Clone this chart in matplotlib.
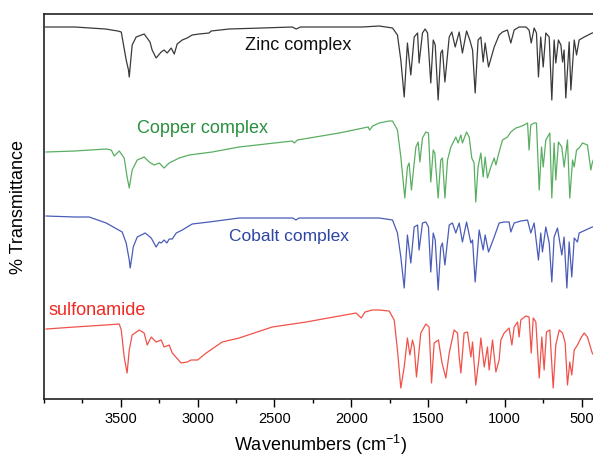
import matplotlib as mpl
mpl.use('Agg')
import numpy as np
import matplotlib.pyplot as plt
from matplotlib.ticker import MultipleLocator

plt.rcParams['font.family'] = ['Liberation Sans', 'DejaVu Sans']
plt.rcParams['mathtext.default'] = 'regular'

# Spectra: wavenumber (cm-1) and stacked %T (arbitrary offset units)
zinc_wn = [3990, 3800, 3700, 3600, 3520, 3497, 3465, 3450, 3445, 3438, 3426, 3400, 3348,
           3310, 3296, 3270, 3237, 3218, 3198, 3172, 3152, 3133, 3100, 3068, 3035, 2990,
           2925, 2912, 2795, 2580, 2384, 2358, 2330, 1928, 1818, 1731, 1699, 1677, 1655,
           1634, 1612, 1590, 1568, 1558, 1536, 1519, 1503, 1482, 1466, 1453, 1434, 1417,
           1406, 1390, 1362, 1345, 1323, 1297, 1276, 1249, 1228, 1210, 1193, 1174, 1156,
           1141, 1128, 1106, 1069, 1037, 1015, 983, 961, 939, 907, 863, 842, 828, 809, 794,
           781, 766, 750, 733, 711, 694, 679, 668, 651, 635, 624, 614, 603, 581, 570, 548,
           533, 516, 483, 431, 400]
zinc_t = [373, 373, 372, 371, 369, 368, 340, 330, 323, 335, 355, 363, 366,
          358, 350, 342, 348, 350, 347, 352, 346, 356, 360, 362, 365, 366,
          367, 369, 371, 372, 373, 371, 373, 373, 374, 372, 365, 340, 303,
          357, 325, 363, 367, 337, 367, 371, 367, 317, 360, 355, 300, 347,
          350, 318, 363, 368, 353, 368, 347, 369, 360, 350, 307, 360, 363,
          338, 357, 333, 353, 365, 368, 370, 357, 370, 373, 373, 370, 357, 372, 367,
          323, 363, 333, 367, 363, 300, 360, 337, 360, 355, 338, 350, 302, 358, 310, 360,
          345, 360, 363, 367, 368]

copper_wn = [3986, 3800, 3595, 3562, 3543, 3510, 3478, 3459, 3445, 3426, 3393, 3348, 3315,
             3283, 3250, 3218, 3185, 3120, 3055, 2905, 2730, 2384, 2370, 2350, 2078, 1890,
             1880, 1860, 1818, 1753, 1731, 1699, 1677, 1651, 1634, 1623, 1608, 1579, 1564,
             1553, 1536, 1514, 1497, 1482, 1466, 1456, 1434, 1417, 1406, 1390, 1373, 1351,
             1319, 1304, 1286, 1276, 1249, 1232, 1215, 1200, 1189, 1174, 1156, 1141, 1128,
             1113, 1091, 1069, 1058, 1037, 1015, 983, 961, 928, 907, 874, 852, 842, 831, 809,
             794, 776, 761, 750, 733, 707, 694, 679, 668, 651, 629, 614, 592, 577, 559, 548,
             533, 516, 494, 462, 440, 431, 400]
copper_t = [248, 249, 251, 250, 244, 249, 242, 223, 212, 230, 240, 243, 238,
            235, 237, 232, 237, 242, 245, 248, 253, 259, 257, 260, 267, 273,
            270, 274, 277, 279, 279, 270, 243, 202, 233, 237, 210, 253, 258,
            238, 262, 268, 267, 218, 250, 247, 202, 240, 242, 202, 240, 253,
            263, 257, 265, 257, 268, 263, 242, 237, 198, 233, 247, 223, 243,
            222, 233, 242, 235, 248, 260, 263, 268, 272, 273, 275, 277, 250, 275, 277,
            277, 210, 253, 233, 260, 267, 202, 257, 220, 258, 253, 233, 260, 202, 240, 233,
            250, 252, 257, 255, 230, 237, 250]

cobalt_wn = [3986, 3800, 3706, 3595, 3491, 3465, 3445, 3439, 3426, 3419, 3393, 3341, 3302,
             3270, 3250, 3237, 3218, 3200, 3185, 3165, 3139, 3100, 3035, 2925, 2730, 2380,
             2360, 2340, 1818, 1731, 1699, 1677, 1655, 1634, 1612, 1590, 1568, 1558, 1536,
             1514, 1497, 1482, 1466, 1453, 1434, 1417, 1406, 1390, 1362, 1341, 1319, 1297,
             1276, 1249, 1221, 1210, 1193, 1167, 1141, 1128, 1106, 1069, 1037, 1004, 972,
             961, 939, 896, 852, 831, 809, 781, 766, 755, 733, 711, 694, 679, 657, 629, 614,
             596, 581, 564, 548, 527, 516, 431, 400]
cobalt_t = [184, 183, 183, 177, 168, 157, 140, 132, 145, 153, 163, 167, 162,
            153, 158, 157, 160, 157, 161, 161, 167, 170, 176, 178, 182, 182,
            180, 182, 182, 180, 167, 143, 112, 165, 137, 173, 175, 150, 177,
            178, 173, 128, 167, 160, 110, 153, 157, 135, 175, 177, 167, 177,
            158, 178, 157, 160, 118, 170, 150, 165, 148, 163, 177, 178, 178,
            168, 177, 179, 180, 167, 177, 140, 167, 148, 173, 157, 118, 163, 172, 145, 163,
            112, 158, 123, 162, 158, 167, 173, 174]

sulfa_wn = [3986, 3800, 3600, 3510, 3497, 3478, 3459, 3445, 3426, 3380, 3348, 3328, 3302,
            3270, 3237, 3218, 3185, 3165, 3107, 3068, 3042, 3000, 2944, 2840, 2730, 2514,
            2293, 2150, 1968, 1935, 1910, 1863, 1818, 1753, 1720, 1699, 1677, 1655, 1634,
            1618, 1601, 1590, 1575, 1547, 1514, 1493, 1477, 1460, 1432, 1410, 1384, 1362,
            1330, 1308, 1297, 1286, 1265, 1243, 1221, 1210, 1189, 1167, 1156, 1134, 1113,
            1102, 1080, 1058, 1037, 1026, 1004, 972, 954, 939, 917, 907, 896, 863, 842, 828,
            815, 798, 776, 759, 744, 729, 707, 685, 668, 646, 624, 607, 592, 577, 564, 548,
            527, 505, 483, 462, 431, 400]
sulfa_t = [71, 73, 75, 76, 70, 43, 27, 50, 65, 70, 67, 55, 63,
           58, 60, 53, 55, 47, 37, 38, 40, 40, 47, 58, 62, 73,
           78, 82, 87, 82, 88, 90, 90, 89, 80, 50, 12, 33, 62,
           45, 60, 53, 23, 67, 76, 73, 17, 57, 60, 38, 22, 47,
           70, 67, 43, 27, 67, 68, 43, 58, 15, 43, 62, 33, 53,
           30, 60, 28, 40, 60, 67, 72, 55, 73, 78, 63, 80, 84, 83, 47,
           82, 78, 22, 63, 30, 68, 70, 12, 55, 70, 67, 57, 15, 38, 25, 50,
           55, 62, 67, 63, 47, 40]

fig = plt.figure(figsize=(5.93, 4.59), dpi=100)
ax = fig.add_axes([0.0742, 0.1307, 0.9325, 0.8388])

ax.plot(zinc_wn, zinc_t, color='#3a3a3a', lw=0.9)
ax.plot(copper_wn, copper_t, color='#5aae62', lw=0.9)
ax.plot(cobalt_wn, cobalt_t, color='#4a5cb8', lw=0.9)
ax.plot(sulfa_wn, sulfa_t, color='#f0524a', lw=0.9)

# curve labels
ax.text(0.363, 0.906, 'Zinc complex', transform=ax.transAxes, fontsize=13, color='#111111')
ax.text(0.168, 0.691, 'Copper complex', transform=ax.transAxes, fontsize=13, color='#2a9040')
ax.text(0.334, 0.410, 'Cobalt complex', transform=ax.transAxes, fontsize=12.5, color='#2c44a4')
ax.text(0.008, 0.218, 'sulfonamide', transform=ax.transAxes, fontsize=13, color='#ee2a22')

ax.set_xlim(4000, 400)
ax.set_ylim(1, 386)
ax.xaxis.set_minor_locator(MultipleLocator(250))
ax.set_xticks([3500, 3000, 2500, 2000, 1500, 1000, 500])
ax.tick_params(axis='x', which='major', direction='out', length=6, width=1.0, labelsize=10.5)
ax.tick_params(axis='x', which='minor', direction='out', length=3, width=1.0)
ax.set_yticks([])
for s in ax.spines.values():
    s.set_linewidth(1.2)
    s.set_color('#222222')

ax.set_xlabel('Wavenumbers (cm$^{-1}$)', fontsize=13, labelpad=5)
ax.set_ylabel('% Transmittance', fontsize=13, labelpad=12)

plt.savefig('out.png', dpi=100)
